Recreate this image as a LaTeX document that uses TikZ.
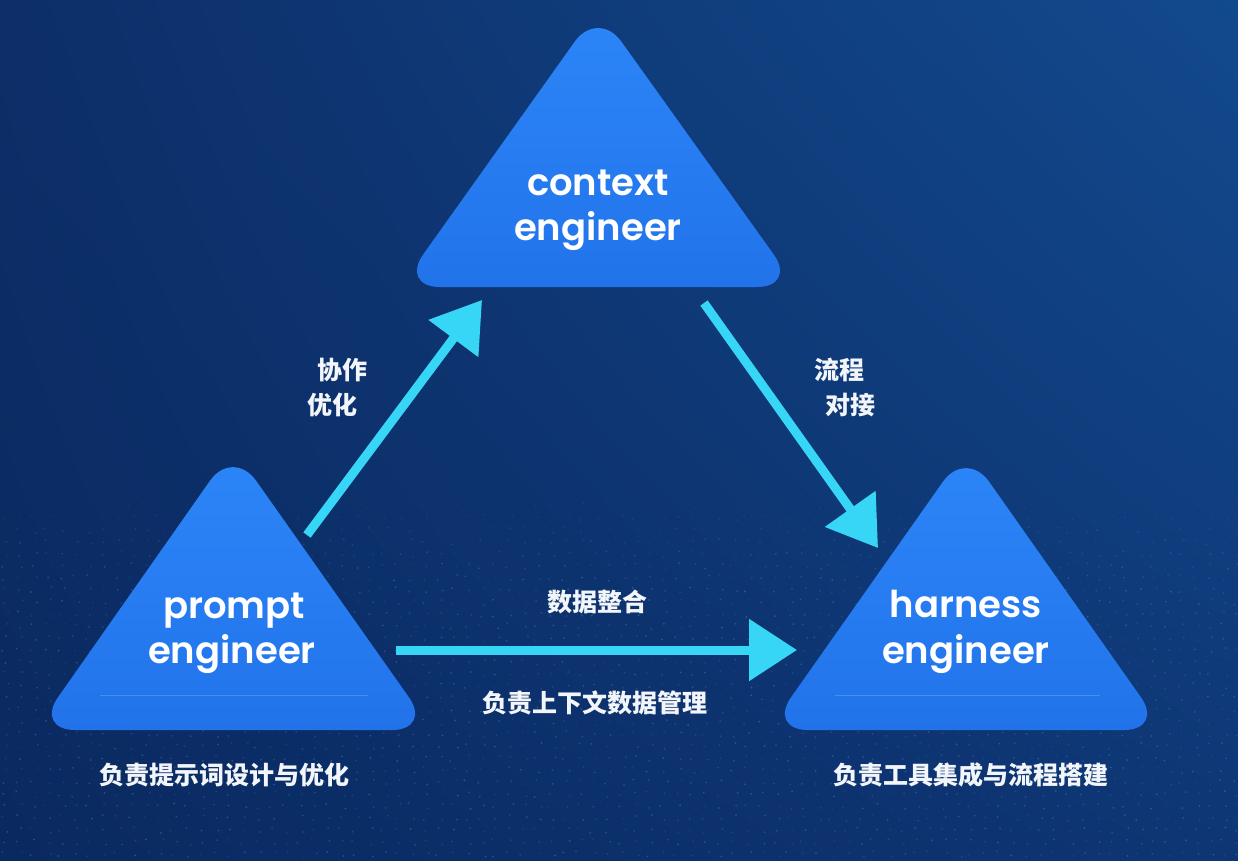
\documentclass[tikz,border=0pt]{standalone}
\usepackage{fontspec}
\usetikzlibrary{arrows.meta,shadings}
\newfontfamily\popfont{Poppins}[BoldFont={Poppins SemiBold}]
\newfontfamily\cjk{Noto Sans CJK SC}
\definecolor{bgUL}{HTML}{0D2E68}
\definecolor{bgUR}{HTML}{124A8E}
\definecolor{bgLL}{HTML}{0A2960}
\definecolor{bgLR}{HTML}{0E3674}
\definecolor{triTop}{HTML}{2C86F8}
\definecolor{triBot}{HTML}{2273EA}
\definecolor{arrowCyan}{HTML}{37D6F6}
\definecolor{labWhite}{HTML}{F2F5FA}
\definecolor{dotBlue}{HTML}{4A8AE8}
\begin{document}
\begin{tikzpicture}[x=1pt,y=-1pt,
  tri/.style={top color=triTop,bottom color=triBot,rounded corners=40pt},
  eng/.style={text=white,font=\popfont\bfseries\fontsize{37}{44}\selectfont,anchor=base,inner sep=0pt},
  lab/.style={text=labWhite,font=\cjk\bfseries\fontsize{25}{30}\selectfont,inner sep=0pt},
  flow/.style={draw=arrowCyan,line width=9pt,-{Triangle[length=48pt,width=60pt]}},
  sheen/.style={draw=white,opacity=0.18,line width=0.8pt}]
% background
\path[use as bounding box] (0,0) rectangle (1238,860);
\shade[upper left=bgUL,upper right=bgUR,lower left=bgLL,lower right=bgLR] (0,0) rectangle (1238,860);
% faint dot field, fading in towards the bottom
\pgfmathsetseed{7}
\foreach \yy in {470,482,...,855}{
  \pgfmathsetmacro{\ramp}{min(1,(\yy-470)/110)}
  \foreach \xx in {6,20,...,1238}{
    \pgfmathsetmacro{\op}{\ramp*(0.12+0.3*rnd)}
    \fill[dotBlue,opacity=\op] (\xx+4*rand,\yy+3*rand) circle (1.0);
  }
}
% triangle corners
\coordinate (cA) at (598,9);
\coordinate (cL) at (400,287);
\coordinate (cR) at (797,287);
\coordinate (pA) at (233,448);
\coordinate (pL) at (35,730);
\coordinate (pR) at (432,730);
\coordinate (hA) at (966,449);
\coordinate (hL) at (768,730);
\coordinate (hR) at (1164,730);
% triangles
\shade[tri] (cA) -- (cR) -- (cL) -- cycle;
\shade[tri] (pA) -- (pR) -- (pL) -- cycle;
\shade[tri] (hA) -- (hR) -- (hL) -- cycle;
% faint sheen lines
\coordinate (ps1) at (100,695);
\coordinate (ps2) at (368,695);
\coordinate (hs1) at (835,695);
\coordinate (hs2) at (1100,695);
\draw[sheen] (ps1) -- (ps2);
\draw[sheen] (hs1) -- (hs2);
% role texts
\node[eng] (ctx1) at (598,195) {context};
\node[eng] (ctx2) at (598,240) {engineer};
\node[eng] (pr1) at (234,618) {prompt};
\node[eng] (pr2) at (232,663) {engineer};
\node[eng] (hr1) at (966,617) {harness};
\node[eng] (hr2) at (966,663) {engineer};
% arrows
\coordinate (a1s) at (307,535);
\coordinate (a1e) at (482,300);
\coordinate (a2s) at (704,303);
\coordinate (a2e) at (878,548);
\coordinate (a3s) at (396,650);
\coordinate (a3e) at (797,650);
\draw[flow] (a1s) -- (a1e);
\draw[flow] (a2s) -- (a2e);
\draw[flow] (a3s) -- (a3e);
% labels
\node[lab] (l1) at (342,370) {协作};
\node[lab] (l2) at (332,405) {优化};
\node[lab] (l3) at (839,370) {流程};
\node[lab] (l4) at (850,405) {对接};
\node[lab] (l5) at (597,602) {数据整合};
\node[lab] (l6) at (595,703) {负责上下文数据管理};
\node[lab] (l7) at (224,775) {负责提示词设计与优化};
\node[lab] (l8) at (971,775) {负责工具集成与流程搭建};
\end{tikzpicture}
\end{document}
